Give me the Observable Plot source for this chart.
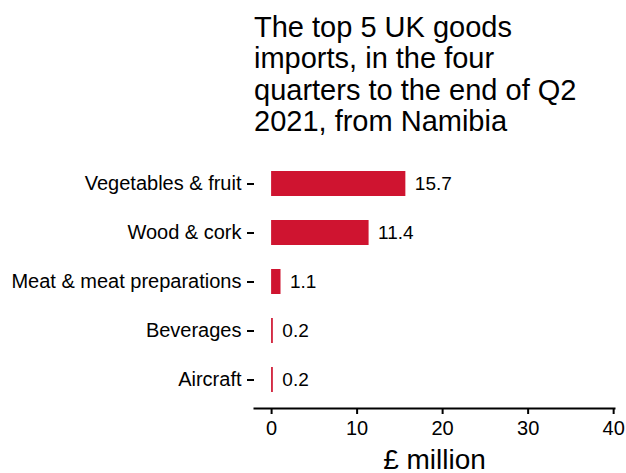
<!DOCTYPE html>
<html>
<head>
<meta charset="utf-8">
<script src="https://cdn.jsdelivr.net/npm/d3@7"></script>
<script src="https://cdn.jsdelivr.net/npm/@observablehq/plot@0.6"></script>
<style>
  html, body { margin: 0; padding: 0; background: #fff; }
  #wrap { position: relative; width: 626px; height: 473px; overflow: hidden; font-family: "Liberation Sans", Arial, sans-serif; }
  #title { position: absolute; left: 254px; top: 12px; font-size: 29px; line-height: 31.3px; color: #000; white-space: nowrap; }
  #chart { position: absolute; left: 0; top: 0; }
</style>
</head>
<body>
<div id="wrap">
  <div id="chart"></div>
  <div id="title">The top 5 UK goods<br>imports, in the four<br>quarters to the end of Q2<br>2021, from Namibia</div>
</div>
<script>
const categories = ["Vegetables & fruit", "Wood & cork", "Meat & meat preparations", "Beverages", "Aircraft"];
const values = [15.7, 11.4, 1.1, 0.2, 0.2];
const xTicks = [0, 10, 20, 30, 40];
const axisLabel = "£ million";

const data = categories.map((c, i) => ({category: c, value: values[i]}));

const chart = Plot.plot({
  width: 626,
  height: 473,
  marginLeft: 254,
  marginRight: 12,
  marginTop: 154,
  marginBottom: 65,
  style: {fontFamily: "'Liberation Sans', Arial, sans-serif", background: "#fff", color: "#000"},
  x: {domain: [-2, 40.1], ticks: xTicks},
  y: {domain: categories, paddingInner: 0.5, paddingOuter: 0.32},
  marks: [
    Plot.barX(data, {x1: 0, x2: "value", y: "category", fill: "#cf1430"}),
    Plot.text(data, {x: "value", y: "category", text: d => d.value.toFixed(1), textAnchor: "start", dx: 9, fontSize: 19, fill: "#000"}),
    Plot.frame({anchor: "bottom", stroke: "#000", strokeWidth: 2}),
    Plot.axisX({ticks: xTicks, tickSize: 6, tickPadding: 6, fontSize: 20, label: null, strokeWidth: 2, tickFormat: d => String(d)}),
    Plot.axisY({tickSize: 7, tickPadding: 6, fontSize: 20, label: null, strokeWidth: 2}),
    Plot.text([axisLabel], {frameAnchor: "bottom", dy: 60, fontSize: 28, fill: "#000"})
  ]
});
document.getElementById("chart").appendChild(chart);
</script>
</body>
</html>
